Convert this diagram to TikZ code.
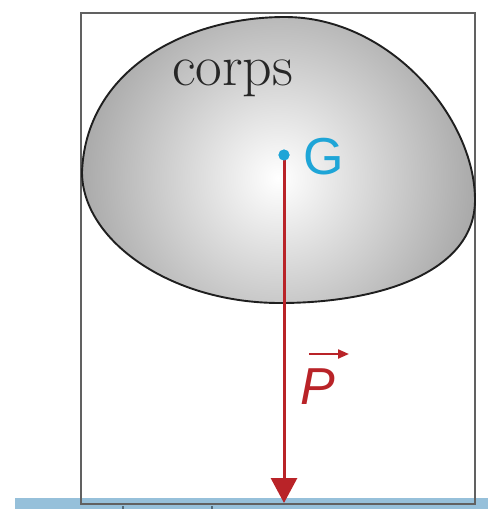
\documentclass[tikz,border=0pt]{standalone}
\usepackage{fontspec}
\newfontfamily\sansf{Liberation Sans}
\usetikzlibrary{arrows.meta}
\definecolor{gblue}{RGB}{30,165,215}
\definecolor{pred}{RGB}{185,35,40}
\definecolor{groundc}{RGB}{150,192,218}
\tikzset{
  frame/.style={line width=2pt, black!62},
  blobline/.style={line width=1.9pt, black!88},
  force/.style={pred, line width=3pt, -{Triangle[width=26pt,length=25pt]}},
}
\begin{document}
\begin{tikzpicture}[x=1pt,y=-1pt]
\useasboundingbox (0,0) rectangle (488,509);
% ground
\fill[groundc] (15,498) rectangle (488,509);
\draw[black!45!groundc, line width=1.2pt] (123,506) -- (123,509);
\draw[black!45!groundc, line width=1.2pt] (212,506) -- (212,509);
% frame
\draw[frame] (81,13) rectangle (475,504);
% body
\begin{scope}
\clip (82,172) .. controls (86,70) and (185,17) .. (285,17)
      .. controls (390,17) and (475,118) .. (475,200)
      .. controls (475,272) and (380,303) .. (280,303)
      .. controls (170,303) and (82,240) .. (82,172) -- cycle;
\shade[inner color=white, outer color=black!68] (278,178) circle (400);
\end{scope}
\draw[blobline] (82,172) .. controls (86,70) and (185,17) .. (285,17)
      .. controls (390,17) and (475,118) .. (475,200)
      .. controls (475,272) and (380,303) .. (280,303)
      .. controls (170,303) and (82,240) .. (82,172) -- cycle;
\node[anchor=base west, inner sep=0, text=black!85, font=\fontsize{58}{60}\selectfont] (corps) at (172,85) {corps};
% weight
\node[circle, fill=gblue, inner sep=0, minimum size=11pt] (G) at (284,155) {};
\coordinate (impact) at (284,503);
\draw[force] (G.center) -- (impact);
\node[circle, fill=gblue, inner sep=0, minimum size=11pt] at (G) {};
\node[anchor=base west, inner sep=0, text=gblue, font=\sansf\fontsize{52}{60}\selectfont] (Glabel) at (303,174) {G};
\node[anchor=base west, inner sep=0, text=pred, font=\sansf\itshape\fontsize{52}{60}\selectfont] (Plabel) at (300,404) {P};
\coordinate (va) at (309,354);
\coordinate (vb) at (349,354);
\draw[pred, line width=2.2pt, -{Triangle[width=9pt,length=11pt]}] (va) -- (vb);
\end{tikzpicture}
\end{document}
